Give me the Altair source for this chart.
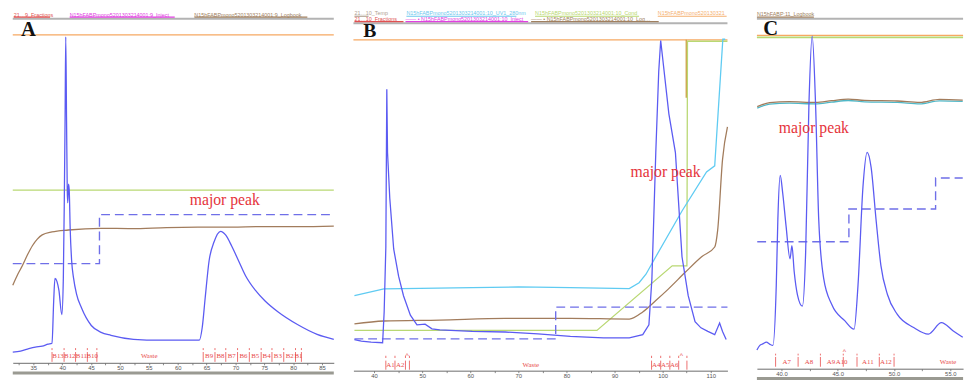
import altair as alt
import pandas as pd

SANS = "Liberation Sans"
SERIF = "Liberation Serif"

UV = "#5b5bf2"
STEP = "#6f6fe8"
COND = "#a27c5c"
COND_EDGE = "#4fb8c8"
CONC = "#b9d873"
PH = "#5fcbf2"
PRESS = "#f6a862"
FRAC = "#e84a4a"
PEAK = "#e5343c"
RULE_TOP = "#b3b3b3"
RULE_BOTTOM = "#9a9a92"
MARKER = "#c9a040"

# ---------------- Panel A: first column, fractions B13..B1 ----------------
a_domain = [31.43, 87.04]
a_ticks = [32.5, 35, 37.5, 40, 42.5, 45, 47.5, 50, 52.5, 55, 57.5, 60, 62.5, 65,
           67.5, 70, 72.5, 75, 77.5, 80, 82.5, 85]
a_uv_t = [31.43, 32.79, 33.98, 35.34, 36.53, 37.55, 38.23, 38.52, 38.74, 39.08, 39.42,
          39.93, 40.19, 40.36, 40.49, 40.61, 40.75, 40.87, 40.95, 41.09, 41.21, 41.38,
          41.63, 41.97, 42.48, 43.33, 45.03, 46.73, 48.44, 52.35, 56.94, 63.74, 64.25,
          64.76, 65.44, 66.29, 67.43, 68.33, 69.35, 70.54, 71.73, 73.44, 75.14, 77.35,
          80.75, 84.15, 87.04]
a_uv = [3.02, 3.30, 3.85, 4.40, 4.67, 5.22, 5.49, 17.31, 23.63, 22.80, 20.33,
        13.46, 23.63, 45.60, 67.58, 91.21, 67.58, 48.35, 44.78, 50.00, 48.35, 37.36,
        28.57, 23.63, 19.23, 15.38, 10.44, 8.52, 7.69, 6.59, 6.32, 6.32, 9.89,
        18.13, 28.57, 33.79, 36.81, 35.71, 32.69, 28.57, 24.45, 20.33, 17.31, 14.29,
        10.71, 7.97, 6.59]
a_cond_t = [31.43, 32.28, 33.13, 33.98, 34.83, 35.68, 36.53, 38.23, 41.07, 46.73, 52.0,
            58.08, 63.5, 69.40, 75.0, 81.0, 87.04]
a_cond = [21.70, 24.73, 27.28, 30.22, 32.77, 34.62, 35.80, 36.62, 37.17, 37.64, 37.55,
          37.83, 37.95, 37.99, 38.12, 38.10, 38.27]
a_conc_t = [31.43, 87.04]
a_conc = [48.35, 48.35]
a_press_t = [31.43, 87.04]
a_press = [91.76, 91.76]
a_step_t = [31.43, 46.45, 46.45, 87.04]
a_step = [27.75, 27.75, 41.48, 41.48]
a_frac_edges = [38.23, 40.32, 42.31, 44.35, 46.0, 64.42, 66.46, 68.33, 70.37, 72.41,
                74.46, 76.33, 78.37, 80.41, 81.43]
a_frac_names = ["B13", "B12", "B11", "B10", "Waste", "B9", "B8", "B7", "B6", "B5",
                "B4", "B3", "B2", "B1"]
a_frac_pos = [39.27, 41.31, 43.33, 45.2, 55.07, 65.44, 67.4, 69.35, 71.39, 73.44,
              75.4, 77.35, 79.39, 80.92]
a_legend = ["21\u20269_Fractions", "N15hFABPmono5201303214001:9_Inject",
            "N15hFABPmono5201303214001:9_Logbook"]
a_legend_colors = ["#e05050", "#e040e0", "#a08060"]
a_legend_start = [31.6, 41.29, 62.89]
a_legend_end = [37.89, 59.49, 82.46]

# ---------------- Panel B: second column, fractions A1..A6 ----------------
b_domain = [35.71, 113.47]
b_ticks = [40, 45, 50, 55, 60, 65, 70, 75, 80, 85, 90, 95, 100, 105, 110]
b_uv_t = [35.92, 37.35, 39.39, 41.78, 42.10, 42.45, 42.65, 42.80, 43.27, 44.08, 45.10,
          46.12, 47.55, 48.92, 50.61, 52.04, 53.67, 60.41, 67.29, 74.08, 80.82, 87.69,
          93.06, 95.86, 97.14, 97.76, 98.57, 99.18, 99.59, 101.29, 102.65, 104.02,
          105.31, 106.73, 107.96, 109.39, 110.82, 111.84, 112.45, 113.20]
b_uv = [8.53, 8.08, 7.81, 7.65, 16.08, 33.87, 77.07, 59.73, 47.20, 33.33, 25.87,
        20.53, 15.20, 12.53, 12.72, 11.47, 11.20, 10.75, 10.59, 10.05, 9.41, 8.99,
        8.99, 9.87, 12.53, 25.07, 59.73, 81.87, 90.40, 70.32, 59.73, 31.20,
        20.53, 13.41, 11.73, 10.75, 9.87, 13.07, 10.75, 8.53]
b_ph_t = [35.92, 42.04, 49.59, 60.41, 70.0, 80.82, 93.06, 95.10, 96.53, 98.57, 104.02,
          109.12, 110.82, 112.51, 113.0]
b_ph = [20.53, 22.40, 22.53, 22.75, 22.93, 22.75, 22.48, 24.08, 26.40, 31.20, 43.73,
        54.40, 56.08, 90.75, 90.75]
b_cond_t = [35.92, 42.04, 53.67, 67.29, 80.82, 93.06, 95.86, 98.57, 101.22, 104.69,
            108.10, 110.82, 111.43, 112.45, 113.47]
b_cond = [12.80, 13.60, 13.87, 14.32, 14.32, 14.13, 16.08, 19.20, 22.40, 26.93,
          31.20, 33.87, 38.40, 57.87, 66.75]
b_conc_t = [35.92, 86.33, 101.98, 105.04, 105.16, 113.47]
b_conc = [11.01, 11.01, 28.72, 28.72, 90.2, 90.2]
b_press_t = [35.71, 113.47]
b_press = [90.59, 90.59]
b_step_t = [35.92, 77.76, 77.76, 113.47]
b_step = [8.72, 8.72, 17.41, 17.41]
b_marker_t = 104.90
b_marker = [90.59, 74.75]
b_frac_edges = [42.45, 44.35, 46.53, 47.35, 97.69, 99.59, 101.49, 103.33, 105.04]
b_frac_names = ["A1", "A2", "Waste", "A4", "A5", "A6"]
b_frac_pos = [43.4, 45.44, 72.59, 98.64, 100.54, 102.41]
b_inject_t = [46.88, 103.88]
b_legend_1 = ["21\u202610_Temp", "N15hFABPmono5201303214001:10_UV1_280nm",
              "N15hFABPmono5201303214001:10_Cond", "N15hFABPmono520130321"]
b_legend_1_colors = ["#b0a090", "#6cc8ee", "#b8d870", "#f5b070"]
b_legend_1_start = [35.92, 46.73, 73.47, 98.98]
b_legend_1_end = [38.86, 69.59, 95.10, 113.30]
b_legend_2 = ["21\u202610_Fractions",
              "\u2014\u2014 \u2022 N15hFABPmono5201303214001:10_Inject",
              "\u2014\u2014 \u2022 N15hFABPmono5201303214001:10_Logbook"]
b_legend_2_colors = ["#e05050", "#e040e0", "#a08060"]
b_legend_2_start = [35.92, 46.53, 72.65]
b_legend_2_end = [46.12, 72.04, 99.18]

# ---------------- Panel C: third column, fractions A7..A12 ----------------
c_domain = [37.82, 56.13]
c_ticks = [40, 42.5, 45, 47.5, 50, 52.5, 55]
c_uv_t = [37.82, 38.08, 38.34, 38.67, 38.95, 39.24, 39.54, 39.68, 39.89, 40.11, 40.41,
          40.76, 40.93, 41.13, 41.42, 41.86, 42.15, 42.44, 42.73, 43.03, 43.31, 43.75,
          44.47, 45.64, 46.45, 46.80, 47.24, 47.61, 47.96, 48.40, 48.83, 49.42, 50.29,
          51.74, 53.05, 54.21, 55.23, 56.10]
c_uv = [5.14, 6.41, 6.84, 7.30, 6.76, 6.41, 23.05, 41.08, 53.24, 48.38, 39.27,
        30.27, 33.86, 26.76, 20.35, 17.22, 32.16, 72.70, 91.54, 72.70, 41.08, 24.86,
        17.65, 13.16, 10.89, 23.05, 50.08, 59.54, 55.49, 41.08, 28.46, 20.35, 14.95,
        11.35, 9.54, 12.70, 10.46, 8.65]
c_cond_t = [37.85, 38.95, 40.70, 43.03, 44.45, 45.93, 47.38, 50.29, 52.29, 54.04, 56.10]
c_cond = [72.16, 73.24, 73.51, 73.32, 73.78, 74.24, 73.86, 73.70, 73.32, 74.14, 73.97]
c_cond_edge = [71.76, 72.84, 73.11, 72.92, 73.38, 73.84, 73.46, 73.30, 72.92, 73.74, 73.57]
c_conc_t = [37.82, 56.13]
c_conc = [91.22, 91.22]
c_press_t = [37.82, 56.13]
c_press = [91.76, 91.76]
c_step_t = [37.85, 45.99, 45.99, 53.69, 53.69, 56.10]
c_step = [34.95, 34.95, 43.97, 43.97, 52.51, 52.51]
c_frac_edges = [39.48, 41.48, 43.46, 45.49, 46.71, 48.69, 50.0]
c_frac_names = ["A7", "A8", "A9", "A10", "A11", "A12", "Waste"]
c_frac_pos = [40.46, 42.44, 44.39, 45.34, 47.67, 49.27, 54.80]
c_inject_t = [45.58]
c_legend = ["N15hFABP:11_Logbook"]
c_legend_colors = ["#a08060"]
c_legend_start = [37.82]
c_legend_end = [42.88]


def x_enc(domain, ticks, label_expr):
    return alt.X(
        "t:Q",
        scale=alt.Scale(domain=domain, nice=False, zero=False),
        axis=alt.Axis(values=ticks, labelExpr=label_expr, title=None, grid=False,
                      domainColor="#6a6a6a", domainWidth=1, tickColor="#8a8a8a",
                      tickSize=2, labelFontSize=6, labelColor="#555555",
                      labelPadding=0, labelFont=SANS, labelFlush=False,
                      labelOverlap=False),
    )


Y = alt.Y("v:Q", scale=alt.Scale(domain=[0, 100], nice=False, zero=False), axis=None)


def trace(X, ts, vs, color, width=1.3, dash=None, interp="linear"):
    df = pd.DataFrame({"t": ts, "v": vs, "i": list(range(len(ts)))})
    kw = dict(color=color, strokeWidth=width, interpolate=interp)
    if dash:
        kw["strokeDash"] = dash
    return alt.Chart(df).mark_line(**kw).encode(x=X, y=Y, order="i:Q")


def hrule(X, t0, t1, level, color, width):
    df = pd.DataFrame({"t": [t0], "t2": [t1]})
    return alt.Chart(df).mark_rule(color=color, strokeWidth=width).encode(
        x=X, x2="t2:Q", y=alt.datum(level))


def fractions(X, edges, names, pos, label_v, dot, line, carets=None, caret_v=None):
    edge_df = pd.DataFrame({"t": edges})
    name_df = pd.DataFrame({"t": pos, "label": names})
    layers = [
        alt.Chart(edge_df).mark_rule(color=FRAC, strokeWidth=0.8).encode(
            x=X, y=alt.datum(dot[0]), y2=alt.datum(dot[1])),
        alt.Chart(edge_df).mark_rule(color=FRAC, strokeWidth=0.8).encode(
            x=X, y=alt.datum(line[0]), y2=alt.datum(line[1])),
        alt.Chart(name_df).mark_text(font=SERIF, fontSize=7, color=FRAC,
                                     baseline="middle").encode(
            x=X, y=alt.datum(label_v), text="label:N"),
    ]
    if carets:
        layers.append(
            alt.Chart(pd.DataFrame({"t": carets, "label": ["^"] * len(carets)}))
            .mark_text(font=SANS, fontSize=7, color=FRAC, baseline="middle")
            .encode(x=X, y=alt.datum(caret_v), text="label:N"))
    return layers


def legend(X, texts, colors, starts, ends, text_v, line_v):
    tdf = pd.DataFrame({"t": starts, "label": texts, "c": colors})
    rdf = pd.DataFrame({"t": starts, "t2": ends, "c": colors})
    return [
        alt.Chart(tdf).mark_text(font=SANS, fontSize=5.5, align="left",
                                 baseline="alphabetic", limit=125).encode(
            x=X, y=alt.datum(text_v), text="label:N",
            color=alt.Color("c:N", scale=None)),
        alt.Chart(rdf).mark_rule(strokeWidth=1.2).encode(
            x=X, x2="t2:Q", y=alt.datum(line_v), color=alt.Color("c:N", scale=None)),
    ]


def note(X, t, v, text, size, color, bold=False):
    df = pd.DataFrame({"t": [t], "label": [text]})
    return alt.Chart(df).mark_text(font=SERIF, fontSize=size, color=color,
                                   fontWeight="bold" if bold else "normal",
                                   baseline="middle").encode(
        x=X, y=alt.datum(v), text="label:N")


# ---- assemble panel A ----
XA = x_enc(a_domain, a_ticks, "datum.value % 5 === 0 ? datum.label : ''")
panel_a = alt.layer(
    trace(XA, a_press_t, a_press, PRESS),
    trace(XA, a_conc_t, a_conc, CONC),
    trace(XA, a_cond_t, a_cond, COND, interp="monotone"),
    trace(XA, a_step_t, a_step, STEP, width=1.4, dash=[9, 5]),
    trace(XA, a_uv_t, a_uv, UV, interp="monotone"),
    hrule(XA, a_domain[0], a_domain[1], 96.29, RULE_TOP, 2),
    hrule(XA, a_domain[0], a_domain[1], -2.85, RULE_BOTTOM, 3),
    *legend(XA, a_legend, a_legend_colors, a_legend_start, a_legend_end, 96.9, 96.72),
    *fractions(XA, a_frac_edges, a_frac_names, a_frac_pos, 1.92, (4.12, 3.57), (3.02, 0.27)),
    note(XA, 68.16, 45.6, "major peak", 16, PEAK),
    note(XA, 34.15, 93.2, "A", 21, "#111111", bold=True),
).properties(width=327, height=364)

# ---- assemble panel B ----
XB = x_enc(b_domain, b_ticks, "datum.value % 10 === 0 ? datum.label : ''")
panel_b = alt.layer(
    trace(XB, b_press_t, b_press, PRESS),
    trace(XB, b_conc_t, b_conc, CONC),
    trace(XB, b_cond_t, b_cond, COND, interp="monotone"),
    trace(XB, b_ph_t, b_ph, PH),
    trace(XB, b_step_t, b_step, STEP, width=1.4, dash=[9, 5]),
    trace(XB, b_uv_t, b_uv, UV),
    alt.Chart(pd.DataFrame({"t": [b_marker_t]})).mark_rule(color=MARKER, strokeWidth=1.3)
    .encode(x=XB, y=alt.datum(b_marker[0]), y2=alt.datum(b_marker[1])),
    hrule(XB, b_domain[0], b_domain[1], 95.15, RULE_TOP, 2),
    *legend(XB, b_legend_1, b_legend_1_colors, b_legend_1_start, b_legend_1_end,
            97.3, 97.05),
    *legend(XB, b_legend_2, b_legend_2_colors, b_legend_2_start, b_legend_2_end,
            95.85, 95.6),
    *fractions(XB, b_frac_edges, b_frac_names, b_frac_pos, 1.6, (4.08, 3.47), (2.75, 0.27),
               b_inject_t, 4.0),
    note(XB, 100.61, 54.5, "major peak", 16, PEAK),
    note(XB, 39.14, 92.9, "B", 20, "#111111", bold=True),
).properties(width=381, height=372)

# ---- assemble panel C ----
XC = x_enc(c_domain, c_ticks, "datum.value % 5 === 0 ? format(datum.value, '.1f') : ''")
panel_c = alt.layer(
    trace(XC, c_conc_t, c_conc, CONC, width=2),
    trace(XC, c_press_t, c_press, PRESS),
    trace(XC, c_cond_t, c_cond_edge, COND_EDGE, interp="monotone"),
    trace(XC, c_cond_t, c_cond, COND, interp="monotone"),
    trace(XC, c_step_t, c_step, STEP, width=1.4, dash=[9, 5]),
    trace(XC, c_uv_t, c_uv, UV, interp="monotone"),
    hrule(XC, c_domain[0], c_domain[1], 96.35, RULE_TOP, 2),
    hrule(XC, c_domain[0], c_domain[1], -2.7, RULE_BOTTOM, 3),
    *legend(XC, c_legend, c_legend_colors, c_legend_start, c_legend_end, 97.1, 96.8),
    *fractions(XC, c_frac_edges, c_frac_names, c_frac_pos, 1.89, (4.14, 3.65), (3.24, 0.54),
               c_inject_t, 4.59),
    note(XC, 42.88, 66.22, "major peak", 16, PEAK),
    note(XC, 39.04, 93.6, "C", 21, "#111111", bold=True),
).properties(width=210, height=370)

chart = (
    alt.hconcat(alt.hconcat(panel_a, panel_b, spacing=14), panel_c, spacing=23)
    .properties(padding={"left": 10, "top": 2, "right": 0, "bottom": 0},
                background="white")
    .configure_view(stroke=None)
)

chart.save("out.html", embed_options={"renderer": "svg", "actions": False})
